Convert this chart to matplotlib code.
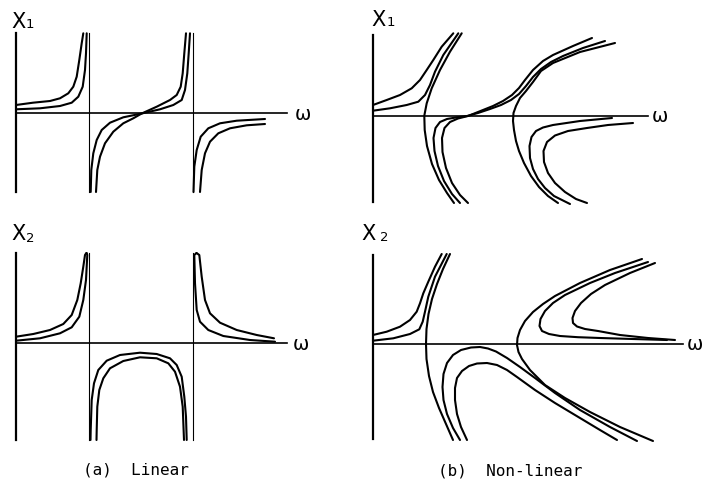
import matplotlib
matplotlib.use('Agg')
import matplotlib.pyplot as plt
import numpy as np

# curves: (omega, X) pairs, one unit = one pixel from each panel's origin

# (a) linear, X1
lin1_left_outer = [(0, 8), (17, 10.3), (34, 12), (44, 14.7), (52.3, 19.7), (57.3, 26.3),
                   (60.7, 36.3), (63.3, 53), (65.7, 69.7), (67.3, 79.7)]
lin1_left_inner = [(0, 3.7), (24, 4.7), (44, 7), (55.7, 10.3), (62.3, 16.3), (66.7, 26.3),
                   (69, 43), (70, 59.7), (70.7, 79.7)]
lin1_mid_c = [(74.7, -79), (75.3, -57), (77.3, -40.3), (80.7, -27), (85.7, -17), (94, -9.7),
              (107.3, -4.3), (125.7, -0.5), (144, 3.7), (157.3, 8), (165.7, 13), (169, 23),
              (171.3, 39.7), (172.7, 59.7), (174, 79.7)]
lin1_mid_d = [(80, -79), (81.3, -57), (84, -43.7), (89, -30.3), (97.3, -18.7), (107.3, -10.3),
              (117.3, -5.3), (125.7, -0.5), (140.7, 6.3), (154, 13), (160.7, 18), (164.7, 26.3),
              (166.7, 39.7), (168.3, 59.7), (170, 79.7)]
lin1_right_e = [(177.5, -79), (178.3, -53.7), (180.7, -37), (184.7, -23.7), (192.3, -15.3),
                (204, -10.3), (220.7, -7.7), (249, -6)]
lin1_right_f = [(184, -79), (185.7, -57), (189, -40.3), (194, -28.7), (202.3, -20.3),
                (214, -15.3), (230.7, -12.3), (249, -11)]
lin1_asym = [73, 177]

# (a) linear, X2
lin2_left_outer = [(0, 6.3), (17.3, 9), (34, 13), (47.3, 19), (55.7, 28), (61.3, 43),
                   (64.7, 59.7), (67.3, 76.3), (69, 88), (70.3, 90)]
lin2_left_inner = [(0, 2.3), (24, 4.7), (44, 9.7), (55.7, 15.7), (63.3, 26.3), (67.3, 43),
                   (70, 63), (71.3, 88), (70.7, 90)]
lin2_arch_outer = [(74.5, -97), (74.7, -87), (75.7, -57), (78, -40.3), (82.3, -27), (90.7, -17.7),
                   (104, -12), (124, -9.7), (140.7, -11), (154, -15.3), (160.7, -22),
                   (165.7, -33.7), (168.3, -53.7), (170, -73.7), (170.7, -97)]
lin2_arch_inner = [(80.5, -97), (80.7, -87), (81.3, -63.7), (83.3, -47), (87.3, -35.3), (94, -25.3),
                   (107.3, -18), (124, -14.3), (140.7, -15.3), (152.3, -20.3), (159, -28.7),
                   (164, -43.7), (166.7, -63.7), (168, -97)]
lin2_right_inner = [(180.5, 90), (178.3, 88), (179, 59.7), (180.7, 33), (184, 21.3), (192.3, 13),
                    (207.3, 7), (234, 3), (259, 1.3)]
lin2_right_outer = [(180.5, 90), (183.3, 88), (185.7, 66.3), (189, 43), (194, 29.7), (204, 20.3),
                    (220.7, 13), (240.7, 8), (258, 4.7)]
lin2_asym = [73, 177]

# (b) non-linear, X1
nl1_left_outer = [(0, 11), (13.7, 16), (27, 21), (38.7, 27.7), (47, 36), (53.7, 46),
                  (60.3, 56), (68.7, 69.3), (80.3, 82.7)]
nl1_left_inner = [(0, 5.3), (17, 7.7), (33.7, 11), (45.3, 14.3), (52, 21), (57, 31),
                  (62, 44.3), (70.3, 61), (85.3, 82.7)]
nl1_backbone1 = [(88.7, 82.7), (77, 64.3), (67, 46), (58.7, 27.7), (53.7, 12.7), (51.3, 0.3),
                 (51.7, -14), (54, -30), (59, -48), (66, -64), (74, -77), (81, -87)]
nl1_q = [(95, -87), (87, -79), (79, -67), (73, -52), (69.5, -36), (69, -22), (71.5, -12),
         (77, -6), (85, -2.5), (95, 0), (100, 2), (110, 6), (120, 10), (130, 15), (139, 21),
         (146, 28), (152, 36), (160, 46), (170, 55), (180, 61), (200, 70), (219, 78)]
nl1_p = [(87, -87), (79, -78), (71, -65), (65, -50), (61.5, -35), (60.5, -22), (62.5, -12),
         (67, -6), (74, -3), (84, -1.3), (94, 0), (105, 3), (117, 7), (128, 11), (138, 16),
         (146, 22), (153, 30), (160, 39), (168, 47), (178, 54), (190, 60), (210, 68), (232, 75)]
nl1_backbone2 = [(242, 73), (207, 64), (180, 53), (168, 45), (160, 34), (153, 25), (147, 18),
                 (143, 10), (140.5, 3), (140, -5), (141, -14), (143, -25), (146, -35),
                 (151, -47), (158, -60), (166, -71), (175, -80), (185, -87)]
nl1_n1 = [(239, -2), (207, -5), (180, -9), (170, -11.5), (163, -15), (158.5, -21), (156.5, -30),
          (157, -42), (160, -53), (165, -63), (172, -72), (181, -80), (197, -88)]
nl1_n2 = [(260, -7), (235, -9), (214, -12), (195, -15), (182, -19.5), (174, -26), (170.5, -35),
          (171, -46), (175, -57), (182, -67), (192, -76), (203, -83), (214, -87)]

# (b) non-linear, X2
nl2_left_outer = [(0, 9), (13.7, 12.3), (27, 17.3), (37, 24), (43.7, 32.3), (47, 40.7),
                  (50.3, 50.7), (55.3, 62.3), (62, 77.3), (68.7, 90)]
nl2_left_inner = [(0, 3.3), (20.3, 5.7), (37, 10), (46.3, 14.7), (49.7, 22.3), (52, 32.3),
                  (55.3, 47.3), (62, 67.3), (73.7, 90)]
nl2_backbone1 = [(77, 90), (70, 75), (64, 60), (59, 45), (55.5, 30), (53.5, 15), (53, 0),
                 (53.5, -15), (56, -32), (60, -48), (66, -64), (73, -80), (80, -96)]
nl2_arch_outer = [(87, -96), (80, -84), (74, -70), (70.5, -56), (69.5, -43), (70.5, -30),
                  (74, -19), (80, -11), (88, -6), (98, -3.5), (107, -3), (115, -4.5),
                  (123, -7.5), (134, -14), (147, -23), (162, -34), (182, -49), (207, -66),
                  (237, -83), (264, -97)]
nl2_arch_inner = [(94, -96), (88, -83), (84, -70), (82, -56), (82, -44), (84, -34), (89, -27),
                  (96, -22), (104, -19.5), (114, -19), (124, -21), (134, -26), (144, -33),
                  (162, -46), (182, -59), (207, -74), (227, -86), (244, -96)]
nl2_backbone2 = [(269, 85), (237, 74), (207, 61), (182, 48), (170, 40), (160, 32), (152, 23),
                 (147, 14), (144.5, 6), (144, -1), (145.5, -8), (149, -15), (157, -26),
                 (172, -41), (192, -54), (217, -68), (247, -83), (280, -97)]
nl2_n1 = [(275, 82), (242, 71), (217, 61), (192, 49), (180, 41), (172, 33), (167.5, 25),
          (166.5, 18), (169, 13), (176, 10), (187, 8), (205, 6.8), (227, 6), (260, 5), (294, 4)]
nl2_n2 = [(282, 81), (257, 71), (232, 59), (218, 50), (208, 41), (202, 33), (199.5, 26),
          (200, 21), (204, 17.5), (212, 15), (225, 13), (247, 9), (275, 6), (302, 4)]

W, H = 702, 488
fig = plt.figure(figsize=(W / 100, H / 100), dpi=100)

CURVE_LW = 1.5


def panel(ox, oy, ylo, yhi, xend):
    ax = fig.add_axes([(ox - 20) / W, (H - (oy + 115)) / H, 350 / W, 230 / H])
    ax.set_xlim(-20, 330)
    ax.set_ylim(-115, 115)
    ax.axis('off')
    ax.patch.set_alpha(0)
    ax.plot([0, 0], [ylo, yhi], color='black', lw=1.6)
    ax.plot([0, xend], [0, 0], color='black', lw=1.2)
    return ax


def curves(ax, lst):
    for c in lst:
        a = np.array(c)
        ax.plot(a[:, 0], a[:, 1], color='black', lw=CURVE_LW,
                solid_capstyle='round', solid_joinstyle='round')


def ylabel(ax, x, y, sub, sx, sy):
    ax.text(x, y, 'X', fontsize=15, ha='center', va='center')
    ax.text(sx, sy, sub, fontsize=9.5, ha='center', va='center')


# top-left
ax = panel(16, 113, -79, 80, 271)
for w in lin1_asym:
    ax.plot([w, w], [-79, 80], color='black', lw=0.8)
curves(ax, [lin1_left_outer, lin1_left_inner, lin1_mid_c, lin1_mid_d, lin1_right_e, lin1_right_f])
ylabel(ax, 2.5, 91.5, '1', 14, 89)
ax.text(287, -1, 'ω', fontsize=14, ha='center', va='center')

# bottom-left
ax = panel(16, 343, -97, 90, 271)
for w in lin2_asym:
    ax.plot([w, w], [-97, 90], color='black', lw=0.8)
curves(ax, [lin2_left_outer, lin2_left_inner, lin2_arch_outer, lin2_arch_inner,
            lin2_right_inner, lin2_right_outer])
ylabel(ax, 2.5, 109, '2', 14.5, 105)
ax.text(285, -1, 'ω', fontsize=14, ha='center', va='center')

# top-right
ax = panel(373, 116, -86, 81, 275)
curves(ax, [nl1_left_outer, nl1_left_inner, nl1_backbone1, nl1_q, nl1_p,
            nl1_backbone2, nl1_n1, nl1_n2])
ylabel(ax, 5.5, 95.5, '1', 17.5, 93)
ax.text(287, -1, 'ω', fontsize=14, ha='center', va='center')

# bottom-right
ax = panel(373, 344, -95, 89, 310)
curves(ax, [nl2_left_outer, nl2_left_inner, nl2_backbone1, nl2_arch_outer, nl2_arch_inner,
            nl2_backbone2, nl2_n1, nl2_n2])
ylabel(ax, -4.5, 110, '2', 11, 106)
ax.text(322, -1, 'ω', fontsize=14, ha='center', va='center')

fig.text(136 / W, 1 - 470 / H, '(a)  Linear', fontsize=11.5, family='DejaVu Sans Mono',
         ha='center', va='center')
fig.text(510 / W, 1 - 471 / H, '(b)  Non-linear', fontsize=11.5, family='DejaVu Sans Mono',
         ha='center', va='center')

fig.savefig('out.png', dpi=100, facecolor='white')
